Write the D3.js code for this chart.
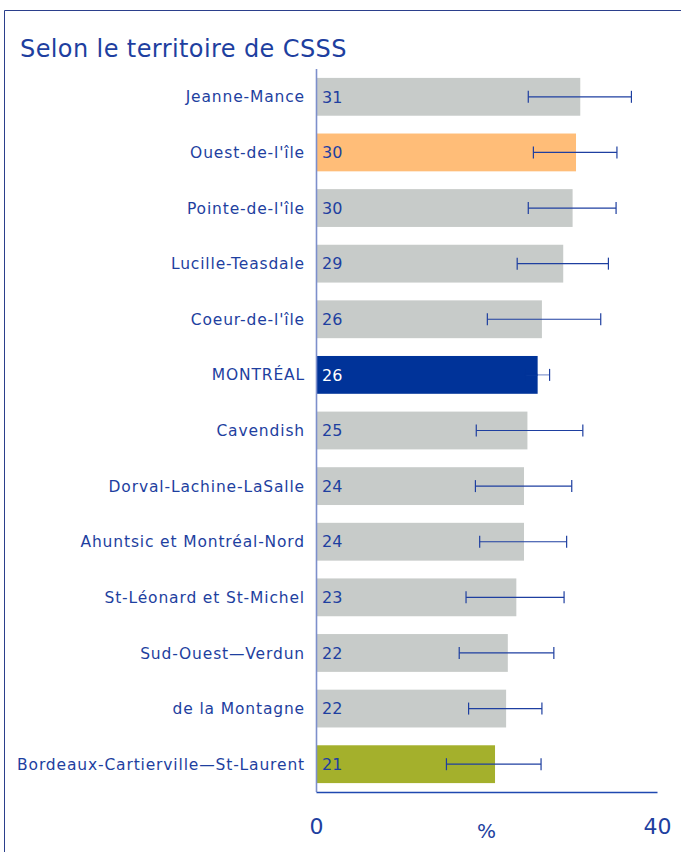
<!DOCTYPE html>
<html>
<head>
<meta charset="utf-8">
<script src="https://cdn.jsdelivr.net/npm/d3@7"></script>
<style>
  body { margin: 0; background: #fff; }
  svg text { font-family: "DejaVu Sans", Verdana, sans-serif; }
</style>
</head>
<body>
<div id="chart"></div>
<script>
// Territoires de CSSS, du plus haut au plus bas
const categories = [
  "Jeanne-Mance", "Ouest-de-l'île", "Pointe-de-l'île", "Lucille-Teasdale",
  "Coeur-de-l'île", "MONTRÉAL", "Cavendish", "Dorval-Lachine-LaSalle",
  "Ahuntsic et Montréal-Nord", "St-Léonard et St-Michel", "Sud-Ouest\u2014Verdun",
  "de la Montagne", "Bordeaux-Cartierville\u2014St-Laurent"
];
const values = [31.0, 30.5, 30.1, 29.0, 26.5, 26.0, 24.8, 24.4, 24.4, 23.5, 22.5, 22.3, 21.0];
const labels = [31, 30, 30, 29, 26, 26, 25, 24, 24, 23, 22, 22, 21];
const lower  = [24.9, 25.5, 24.9, 23.6, 20.1, 24.6, 18.8, 18.7, 19.2, 17.6, 16.8, 17.9, 15.3];
const upper  = [37.0, 35.3, 35.2, 34.3, 33.4, 27.4, 31.3, 30.0, 29.4, 29.1, 27.9, 26.5, 26.4];
const xTicks = [0, 40];

const width = 681, height = 852;
const margin = { top: 69, right: 24, bottom: 60, left: 316 };
const innerW = 657 - margin.left;
const innerH = 792 - margin.top;

const blue = "#1e3fa0";
const dark = "#003399";

function barColor(name) {
  if (name === "MONTRÉAL") return dark;
  if (name === "Ouest-de-l'île") return "#ffbd78";
  if (name.startsWith("Bordeaux")) return "#a4b02c";
  return "#c7cbc9";
}

const svg = d3.select("#chart").append("svg")
  .attr("width", width)
  .attr("height", height);

// cadre
svg.append("path")
  .attr("d", `M4.5,${height} V10.5 H${width}`)
  .attr("fill", "none")
  .attr("stroke", "#2b3f8c")
  .attr("stroke-width", 1);

svg.append("text")
  .attr("x", 20)
  .attr("y", 57)
  .style("font-size", "24px")
  .style("letter-spacing", "0.4px")
  .attr("fill", blue)
  .text("Selon le territoire de CSSS");

const g = svg.append("g")
  .attr("transform", `translate(${margin.left},${margin.top})`);

const x = d3.scaleLinear().domain([0, 40]).range([0, innerW]);
const y = d3.scaleBand().domain(categories).range([0, innerH]).paddingInner(0.32).paddingOuter(0.16);

// barres
g.selectAll("rect.bar")
  .data(categories)
  .join("rect")
  .attr("class", "bar")
  .attr("x", 0)
  .attr("y", d => y(d))
  .attr("width", (d, i) => x(values[i]))
  .attr("height", y.bandwidth())
  .attr("fill", d => barColor(d));

// barres d'erreur
const err = g.selectAll("g.err")
  .data(categories)
  .join("g")
  .attr("class", "err")
  .attr("transform", d => `translate(0,${y(d) + y.bandwidth() / 2})`);

err.append("line")
  .attr("x1", (d, i) => x(lower[i]))
  .attr("x2", (d, i) => x(upper[i]))
  .attr("stroke", d => d === "MONTRÉAL" ? "#8497cf" : blue)
  .attr("stroke-width", 1.2);

err.each(function(d, i) {
  const inside = d === "MONTRÉAL";
  // sur la barre foncée, la partie intérieure se confond avec la barre
  if (inside) {
    d3.select(this).append("line")
      .attr("x1", x(lower[i]) - 1).attr("x2", x(values[i]))
      .attr("stroke", dark).attr("stroke-width", 2);
  }
  [lower[i], upper[i]].forEach(v => {
    d3.select(this).append("line")
      .attr("x1", x(v)).attr("x2", x(v))
      .attr("y1", -6).attr("y2", 6)
      .attr("stroke", inside && v < values[i] ? dark : blue)
      .attr("stroke-width", 1.2);
  });
});

// valeurs
g.selectAll("text.val")
  .data(categories)
  .join("text")
  .attr("class", "val")
  .attr("x", 6)
  .attr("y", d => y(d) + y.bandwidth() / 2)
  .attr("dy", "0.36em")
  .style("font-size", "16px")
  .attr("fill", d => d === "MONTRÉAL" ? "#ffffff" : blue)
  .text((d, i) => labels[i]);

// étiquettes des catégories
g.selectAll("text.cat")
  .data(categories)
  .join("text")
  .attr("class", "cat")
  .attr("x", -11)
  .attr("y", d => y(d) + y.bandwidth() / 2)
  .attr("dy", "0.36em")
  .attr("text-anchor", "end")
  .style("font-size", "15.5px")
  .style("letter-spacing", "0.85px")
  .attr("fill", blue)
  .text(d => d);

// axes
g.append("line")
  .attr("x1", 0.5).attr("x2", 0.5)
  .attr("y1", 0).attr("y2", innerH)
  .attr("stroke", "#7d8fcb")
  .attr("stroke-width", 1.6);

const xAxis = d3.axisBottom(x).tickValues(xTicks).tickSize(0).tickPadding(26);
g.append("g")
  .attr("transform", `translate(0,${innerH})`)
  .call(xAxis)
  .call(a => a.select(".domain").attr("stroke", "#1f48b0").attr("stroke-width", 1.5))
  .call(a => a.selectAll("text")
    .style("font-size", "22px")
    .style("font-family", "'DejaVu Sans', Verdana, sans-serif")
    .attr("fill", blue));

g.append("text")
  .attr("x", x(20))
  .attr("y", innerH + 46)
  .attr("text-anchor", "middle")
  .style("font-size", "20px")
  .attr("fill", blue)
  .text("%");
</script>
</body>
</html>
